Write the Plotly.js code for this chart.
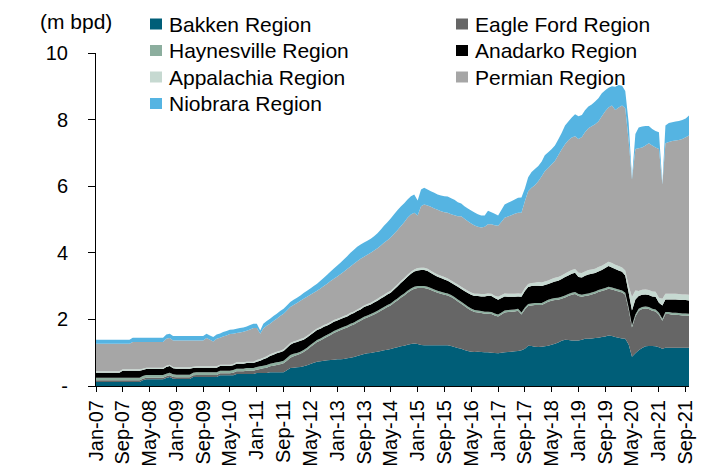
<!DOCTYPE html>
<html>
<head>
<meta charset="utf-8">
<script src="https://cdn.plot.ly/plotly-3.0.1.min.js"></script>
<style>
  html, body { margin: 0; padding: 0; background: #ffffff; }
  #chart { width: 705px; height: 475px; }
</style>
</head>
<body>
<div id="chart"></div>
<script>
// ---- Data (million barrels per day), monthly Jan-07 .. Oct-21 ----
const START_YEAR = 2007;
const N_MONTHS = 178;

const SERIES_NAMES = ['Bakken Region', 'Eagle Ford Region', 'Haynesville Region', 'Anadarko Region',
                      'Appalachia Region', 'Permian Region', 'Niobrara Region'];
const SERIES_COLORS = ['#005E78', '#666666', '#8CAE9E', '#000000', '#C6D9D1', '#A6A6A6', '#55B4E2'];

const BAKKEN = [
  0.12,0.12,0.12,0.12,0.12,0.12,0.12,0.12,0.12,0.12,0.12,0.12,
  0.12,0.12,0.17,0.20,0.20,0.20,0.20,0.20,0.20,0.24,0.27,0.22,
  0.21,0.21,0.21,0.21,0.21,0.27,0.27,0.27,0.27,0.27,0.27,0.27,
  0.27,0.32,0.32,0.32,0.32,0.32,0.36,0.36,0.36,0.36,0.36,0.36,
  0.39,0.39,0.39,0.39,0.41,0.41,0.41,0.41,0.41,0.47,0.54,0.55,
  0.56,0.57,0.59,0.62,0.66,0.70,0.73,0.74,0.76,0.77,0.78,0.79,
  0.80,0.80,0.81,0.83,0.85,0.87,0.90,0.93,0.96,0.98,0.99,1.01,
  1.03,1.05,1.07,1.09,1.11,1.14,1.16,1.19,1.21,1.24,1.26,1.28,
  1.26,1.23,1.22,1.22,1.22,1.22,1.22,1.22,1.22,1.22,1.20,1.17,
  1.14,1.12,1.08,1.05,1.03,1.02,1.03,1.02,1.01,1.01,1.00,0.99,
  0.98,1.00,1.01,1.02,1.03,1.04,1.05,1.07,1.12,1.21,1.20,1.18,
  1.17,1.18,1.19,1.21,1.24,1.27,1.31,1.36,1.39,1.38,1.37,1.37,
  1.37,1.39,1.42,1.42,1.43,1.44,1.45,1.47,1.49,1.52,1.50,1.47,
  1.45,1.43,1.42,1.25,0.88,0.98,1.07,1.14,1.19,1.20,1.20,1.19,
  1.16,1.12,1.15,1.15,1.15,1.15,1.15,1.15,1.15,1.15
];

const EAGLE_FORD = [
  0.05,0.05,0.05,0.05,0.05,0.05,0.05,0.05,0.05,0.05,0.05,0.05,
  0.05,0.05,0.05,0.05,0.05,0.05,0.05,0.05,0.05,0.05,0.05,0.05,
  0.05,0.05,0.05,0.05,0.05,0.05,0.06,0.06,0.06,0.06,0.06,0.06,
  0.06,0.06,0.06,0.06,0.06,0.08,0.08,0.08,0.08,0.10,0.10,0.10,
  0.10,0.12,0.14,0.16,0.18,0.20,0.22,0.24,0.27,0.29,0.31,0.34,
  0.37,0.40,0.43,0.47,0.51,0.55,0.59,0.63,0.67,0.71,0.75,0.80,
  0.84,0.88,0.91,0.93,0.96,0.98,1.01,1.03,1.06,1.08,1.11,1.14,
  1.17,1.21,1.24,1.28,1.31,1.36,1.41,1.46,1.51,1.56,1.61,1.64,
  1.68,1.71,1.72,1.70,1.66,1.62,1.58,1.55,1.52,1.50,1.47,1.44,
  1.40,1.35,1.32,1.28,1.24,1.20,1.18,1.17,1.16,1.16,1.16,1.13,
  1.11,1.15,1.20,1.20,1.20,1.20,1.21,1.08,1.18,1.19,1.22,1.25,
  1.26,1.25,1.29,1.32,1.32,1.31,1.28,1.26,1.27,1.32,1.37,1.39,
  1.33,1.29,1.28,1.30,1.32,1.34,1.37,1.38,1.39,1.40,1.40,1.40,
  1.39,1.38,1.32,1.04,0.88,1.11,1.19,1.17,1.14,1.11,1.06,1.05,
  0.98,0.84,1.01,1.01,0.99,0.99,0.98,0.97,0.97,0.96
];

const HAYNESVILLE = [
  0.08,0.08,0.08,0.08,0.08,0.08,0.08,0.08,0.08,0.08,0.08,0.08,
  0.08,0.08,0.08,0.08,0.08,0.08,0.08,0.08,0.08,0.08,0.08,0.08,
  0.08,0.08,0.08,0.08,0.08,0.08,0.08,0.08,0.08,0.08,0.08,0.08,
  0.08,0.08,0.08,0.08,0.08,0.08,0.08,0.08,0.08,0.08,0.08,0.08,
  0.08,0.08,0.08,0.08,0.08,0.08,0.08,0.08,0.08,0.08,0.08,0.08,
  0.06,0.06,0.06,0.06,0.06,0.06,0.06,0.06,0.06,0.06,0.06,0.06,
  0.06,0.06,0.06,0.06,0.06,0.06,0.06,0.06,0.06,0.06,0.06,0.06,
  0.06,0.06,0.06,0.06,0.06,0.06,0.06,0.06,0.06,0.06,0.06,0.06,
  0.06,0.06,0.06,0.06,0.06,0.06,0.06,0.06,0.06,0.06,0.06,0.06,
  0.06,0.06,0.06,0.06,0.06,0.06,0.06,0.06,0.06,0.06,0.06,0.06,
  0.06,0.06,0.06,0.06,0.06,0.06,0.06,0.06,0.06,0.06,0.06,0.06,
  0.06,0.06,0.06,0.06,0.06,0.06,0.06,0.06,0.06,0.06,0.06,0.06,
  0.06,0.06,0.06,0.06,0.06,0.06,0.06,0.06,0.06,0.06,0.06,0.06,
  0.06,0.06,0.06,0.06,0.06,0.06,0.06,0.06,0.06,0.06,0.06,0.06,
  0.06,0.06,0.06,0.06,0.06,0.06,0.06,0.06,0.06,0.06
];

const ANADARKO = [
  0.15,0.15,0.15,0.15,0.15,0.15,0.15,0.15,0.21,0.21,0.21,0.21,
  0.21,0.21,0.18,0.18,0.18,0.18,0.18,0.18,0.18,0.20,0.20,0.18,
  0.18,0.18,0.18,0.18,0.18,0.14,0.14,0.14,0.14,0.14,0.14,0.14,
  0.14,0.14,0.14,0.14,0.14,0.14,0.15,0.15,0.15,0.15,0.15,0.15,
  0.16,0.17,0.19,0.21,0.23,0.25,0.27,0.28,0.29,0.30,0.31,0.32,
  0.33,0.33,0.31,0.31,0.30,0.30,0.30,0.29,0.29,0.28,0.28,0.28,
  0.27,0.27,0.27,0.27,0.28,0.28,0.28,0.28,0.29,0.29,0.29,0.30,
  0.30,0.31,0.31,0.32,0.32,0.34,0.36,0.38,0.40,0.42,0.44,0.46,
  0.47,0.48,0.48,0.47,0.45,0.43,0.42,0.41,0.40,0.38,0.37,0.37,
  0.38,0.38,0.39,0.40,0.41,0.42,0.43,0.44,0.46,0.48,0.48,0.46,
  0.44,0.43,0.42,0.40,0.39,0.38,0.37,0.47,0.49,0.51,0.52,0.52,
  0.52,0.51,0.49,0.47,0.48,0.50,0.51,0.53,0.55,0.56,0.57,0.58,
  0.51,0.52,0.55,0.57,0.56,0.55,0.56,0.57,0.60,0.62,0.60,0.58,
  0.57,0.56,0.52,0.45,0.45,0.45,0.38,0.37,0.36,0.36,0.37,0.38,
  0.30,0.40,0.38,0.38,0.40,0.40,0.40,0.40,0.40,0.40
];

const APPALACHIA = [
  0.04,0.04,0.04,0.04,0.04,0.04,0.04,0.04,0.04,0.04,0.04,0.04,
  0.04,0.04,0.04,0.04,0.04,0.04,0.04,0.04,0.04,0.04,0.04,0.04,
  0.04,0.04,0.04,0.04,0.04,0.04,0.04,0.04,0.04,0.04,0.04,0.04,
  0.04,0.04,0.04,0.04,0.04,0.04,0.04,0.04,0.04,0.04,0.04,0.04,
  0.05,0.05,0.05,0.05,0.05,0.05,0.05,0.05,0.05,0.05,0.05,0.05,
  0.05,0.05,0.05,0.05,0.05,0.05,0.05,0.05,0.05,0.05,0.05,0.05,
  0.05,0.05,0.05,0.05,0.05,0.05,0.05,0.05,0.05,0.05,0.05,0.05,
  0.06,0.06,0.06,0.06,0.06,0.06,0.06,0.06,0.06,0.06,0.06,0.06,
  0.07,0.07,0.07,0.07,0.07,0.07,0.07,0.07,0.07,0.07,0.07,0.07,
  0.07,0.07,0.07,0.07,0.07,0.07,0.07,0.07,0.07,0.07,0.07,0.07,
  0.09,0.09,0.09,0.09,0.09,0.09,0.09,0.09,0.09,0.09,0.09,0.09,
  0.11,0.11,0.11,0.11,0.11,0.11,0.11,0.11,0.11,0.11,0.11,0.11,
  0.13,0.13,0.13,0.13,0.13,0.13,0.13,0.13,0.13,0.13,0.13,0.13,
  0.13,0.13,0.15,0.20,0.40,0.27,0.15,0.15,0.15,0.15,0.15,0.15,
  0.15,0.20,0.17,0.17,0.17,0.17,0.17,0.17,0.17,0.17
];

const PERMIAN = [
  0.83,0.83,0.83,0.83,0.83,0.83,0.83,0.83,0.77,0.77,0.77,0.82,
  0.82,0.82,0.80,0.77,0.77,0.77,0.77,0.77,0.77,0.81,0.80,0.80,
  0.81,0.81,0.81,0.81,0.81,0.79,0.78,0.78,0.78,0.85,0.80,0.75,
  0.83,0.81,0.85,0.88,0.92,0.91,0.88,0.90,0.92,0.93,0.97,1.01,
  0.96,0.76,0.88,0.92,0.92,0.96,0.99,1.04,1.07,1.08,1.08,1.09,
  1.12,1.15,1.18,1.17,1.16,1.14,1.13,1.16,1.17,1.20,1.23,1.24,
  1.27,1.30,1.33,1.37,1.39,1.43,1.45,1.47,1.46,1.48,1.50,1.51,
  1.52,1.53,1.56,1.57,1.60,1.61,1.63,1.65,1.68,1.71,1.72,1.70,
  1.58,1.85,1.90,1.90,1.92,1.93,1.94,1.94,1.95,1.97,1.99,2.02,
  2.05,2.12,2.10,2.09,2.07,2.05,2.01,2.00,2.02,2.08,2.09,2.12,
  2.13,2.20,2.27,2.32,2.36,2.40,2.42,2.43,2.61,2.79,2.86,2.93,
  3.03,3.19,3.31,3.38,3.44,3.51,3.66,3.78,3.88,3.95,3.98,3.99,
  4.02,4.09,4.18,4.26,4.30,4.34,4.37,4.49,4.58,4.63,4.73,4.65,
  4.76,4.86,4.87,4.35,3.53,4.25,4.29,4.27,4.32,4.41,4.38,4.33,
  4.47,3.43,4.52,4.56,4.59,4.60,4.63,4.67,4.72,4.78
];

const NIOBRARA = [
  0.12,0.12,0.12,0.12,0.12,0.12,0.12,0.12,0.12,0.12,0.12,0.13,
  0.13,0.13,0.13,0.13,0.13,0.13,0.13,0.13,0.13,0.13,0.13,0.13,
  0.13,0.13,0.13,0.13,0.13,0.13,0.13,0.13,0.13,0.13,0.13,0.13,
  0.13,0.13,0.13,0.13,0.13,0.13,0.13,0.13,0.13,0.13,0.13,0.13,
  0.13,0.10,0.14,0.14,0.15,0.15,0.15,0.15,0.15,0.15,0.15,0.16,
  0.16,0.16,0.17,0.18,0.19,0.20,0.21,0.23,0.25,0.27,0.29,0.31,
  0.33,0.35,0.37,0.39,0.41,0.42,0.43,0.43,0.43,0.42,0.42,0.43,
  0.45,0.48,0.51,0.54,0.57,0.59,0.60,0.59,0.57,0.55,0.55,0.55,
  0.45,0.50,0.50,0.48,0.47,0.47,0.46,0.47,0.48,0.49,0.48,0.46,
  0.42,0.38,0.38,0.38,0.39,0.39,0.38,0.36,0.34,0.40,0.36,0.34,
  0.31,0.36,0.40,0.41,0.42,0.43,0.45,0.46,0.38,0.42,0.48,0.49,
  0.46,0.44,0.48,0.47,0.46,0.46,0.47,0.50,0.56,0.56,0.60,0.66,
  0.68,0.66,0.66,0.65,0.65,0.68,0.70,0.69,0.63,0.60,0.58,0.70,
  0.68,0.60,0.52,0.55,0.05,0.45,0.62,0.63,0.59,0.52,0.50,0.50,
  0.50,0.02,0.53,0.57,0.56,0.57,0.57,0.57,0.56,0.60
];

const TICK_VALS = ['2007-01-01','2007-09-01','2008-05-01','2009-01-01','2009-09-01','2010-05-01',
  '2011-01-01','2011-09-01','2012-05-01','2013-01-01','2013-09-01','2014-05-01','2015-01-01',
  '2015-09-01','2016-05-01','2017-01-01','2017-09-01','2018-05-01','2019-01-01','2019-09-01',
  '2020-05-01','2021-01-01','2021-09-01'];
const TICK_TEXT = ['Jan-07','Sep-07','May-08','Jan-09','Sep-09','May-10','Jan-11','Sep-11',
  'May-12','Jan-13','Sep-13','May-14','Jan-15','Sep-15','May-16','Jan-17','Sep-17','May-18',
  'Jan-19','Sep-19','May-20','Jan-21','Sep-21'];
const Y_TICK_VALS = [0, 2, 4, 6, 8, 10];
const Y_TICK_TEXT = ['-', '2', '4', '6', '8', '10'];
const UNIT_LABEL = '(m bpd)';

// month categories
const MONTHS = [];
for (let i = 0; i < N_MONTHS; i++) {
  const y = START_YEAR + Math.floor(i / 12);
  const m = (i % 12) + 1;
  MONTHS.push(y + '-' + (m < 10 ? '0' + m : m) + '-01');
}

const SERIES_VALUES = [BAKKEN, EAGLE_FORD, HAYNESVILLE, ANADARKO, APPALACHIA, PERMIAN, NIOBRARA];

const traces = SERIES_VALUES.map((vals, i) => ({
  type: 'scatter',
  x: MONTHS,
  y: vals,
  name: SERIES_NAMES[i],
  stackgroup: 'one',
  mode: 'none',
  fillcolor: SERIES_COLORS[i],
  line: { width: 0 },
  showlegend: false
}));

// plot-area geometry (pixels)
const W = 705, H = 475;
const M = { l: 96, r: 16, t: 53, b: 89 };
const PW = W - M.l - M.r, PH = H - M.t - M.b;
const px2x = p => (p - M.l) / PW;
const px2y = p => (H - M.b - p) / PH;

const FONT = 'Liberation Sans, Arial, Helvetica, sans-serif';

// custom legend (two columns, square keys)
const LEG_COL_SQ = [150, 456];
const LEG_ROW_Y = [24, 50.5, 77, 103.5];
const SQ_W = 12, SQ_H = 11;
const shapes = [];
const annotations = [];
SERIES_NAMES.forEach((name, i) => {
  const col = i % 2, row = Math.floor(i / 2);
  const sx = LEG_COL_SQ[col], cy = LEG_ROW_Y[row];
  shapes.push({
    type: 'rect', xref: 'paper', yref: 'paper', layer: 'above',
    x0: px2x(sx), x1: px2x(sx + SQ_W), y0: px2y(cy + SQ_H / 2), y1: px2y(cy - SQ_H / 2),
    fillcolor: SERIES_COLORS[i], line: { width: 0 }
  });
  annotations.push({
    xref: 'paper', yref: 'paper', x: px2x(sx + SQ_W + 5), y: px2y(cy),
    xanchor: 'left', yanchor: 'middle', showarrow: false,
    text: name, font: { family: FONT, size: 21, color: '#000000' }
  });
});
annotations.push({
  xref: 'paper', yref: 'paper', x: px2x(38), y: px2y(21.5),
  xanchor: 'left', yanchor: 'middle', showarrow: false,
  text: UNIT_LABEL, font: { family: FONT, size: 21, color: '#000000' }
});

const layout = {
  width: W, height: H,
  margin: M,
  paper_bgcolor: '#ffffff',
  plot_bgcolor: '#ffffff',
  font: { family: FONT, size: 20, color: '#000000' },
  showlegend: false,
  xaxis: {
    type: 'date',
    range: ['2007-01-01', '2021-10-01'],
    tickmode: 'array', tickvals: TICK_VALS, ticktext: TICK_TEXT,
    tickangle: -90,
    ticks: 'outside', ticklen: 5, tickwidth: 1, tickcolor: '#000000',
    showline: true, linecolor: '#000000', linewidth: 1,
    showgrid: false, zeroline: false,
    tickfont: { family: FONT, size: 20, color: '#000000' }
  },
  yaxis: {
    range: [0, 10],
    tickmode: 'array', tickvals: Y_TICK_VALS, ticktext: Y_TICK_TEXT,
    ticks: 'outside', ticklen: 7, tickwidth: 1, tickcolor: '#000000',
    showline: true, linecolor: '#000000', linewidth: 1,
    showgrid: false, zeroline: false,
    ticklabelstandoff: 16,
    tickfont: { family: FONT, size: 20, color: '#000000' }
  },
  shapes: shapes,
  annotations: annotations
};

Plotly.newPlot('chart', traces, layout, { displayModeBar: false, staticPlot: true });
</script>
</body>
</html>
